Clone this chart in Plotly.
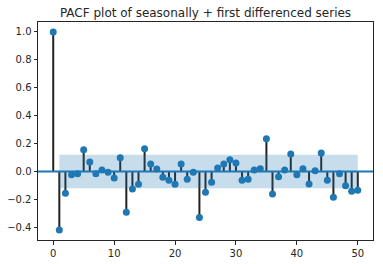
import plotly.graph_objects as go

lags = list(range(0, 51))
pacf = [1.0, -0.42, -0.156, -0.024, -0.017, 0.156, 0.067, -0.017, 0.01, -0.005,
        -0.046, 0.098, -0.293, -0.125, -0.091, 0.163, 0.053, 0.017, -0.041, -0.062,
        -0.091, 0.053, -0.055, -0.005, -0.329, -0.149, -0.077, 0.024, 0.053, 0.084,
        0.06, -0.062, -0.055, 0.01, 0.019, 0.235, -0.161, -0.038, 0.01, 0.125,
        -0.024, 0.019, -0.089, 0.005, 0.132, -0.062, -0.185, -0.017, -0.103, -0.141,
        -0.134]
conf = 0.12
title = "PACF plot of seasonally + first differenced series"

blue = "#1f77b4"

stem_x, stem_y = [], []
for l, v in zip(lags, pacf):
    stem_x += [l, l, None]
    stem_y += [0, v, None]

band_lags = lags[1:]

fig = go.Figure()
fig.add_trace(go.Scatter(x=stem_x, y=stem_y, mode="lines",
                         line=dict(color="#222222", width=2), hoverinfo="skip"))
fig.add_hline(y=0, line=dict(color=blue, width=2))
fig.add_trace(go.Scatter(x=lags, y=pacf, mode="markers",
                         marker=dict(color=blue, size=7)))
fig.add_trace(go.Scatter(x=band_lags, y=[conf] * len(band_lags), mode="lines",
                         line=dict(width=0), hoverinfo="skip"))
fig.add_trace(go.Scatter(x=band_lags, y=[-conf] * len(band_lags), mode="lines",
                         line=dict(width=0), fill="tonexty",
                         fillcolor="rgba(31,119,180,0.25)", hoverinfo="skip"))

axis_common = dict(showgrid=False, zeroline=False, showline=True, linecolor="#262626",
                   linewidth=1, mirror=True, ticks="outside", ticklen=3.5,
                   tickcolor="#262626", automargin=False,
                   tickfont=dict(size=10, color="#262626", family="DejaVu Sans"))
fig.update_xaxes(range=[-2.5, 52.5], tickvals=[0, 10, 20, 30, 40, 50], **axis_common)
fig.update_yaxes(range=[-0.491, 1.071], tickvals=[-0.4, -0.2, 0.0, 0.2, 0.4, 0.6, 0.8, 1.0],
                 tickformat=".1f", **axis_common)
fig.update_layout(
    width=383, height=264, showlegend=False,
    plot_bgcolor="white", paper_bgcolor="white",
    margin=dict(l=38, r=10, t=22, b=24),
    title=dict(text=title, x=0.5, xanchor="center", y=1 - 13 / 264, yanchor="middle",
               xref="paper", yref="container", automargin=False,
               font=dict(size=12, color="#262626", family="DejaVu Sans")),
    font=dict(family="DejaVu Sans"),
)
fig.write_html("out.html", config={"displayModeBar": False},
               post_script="document.body.style.margin='0';")
